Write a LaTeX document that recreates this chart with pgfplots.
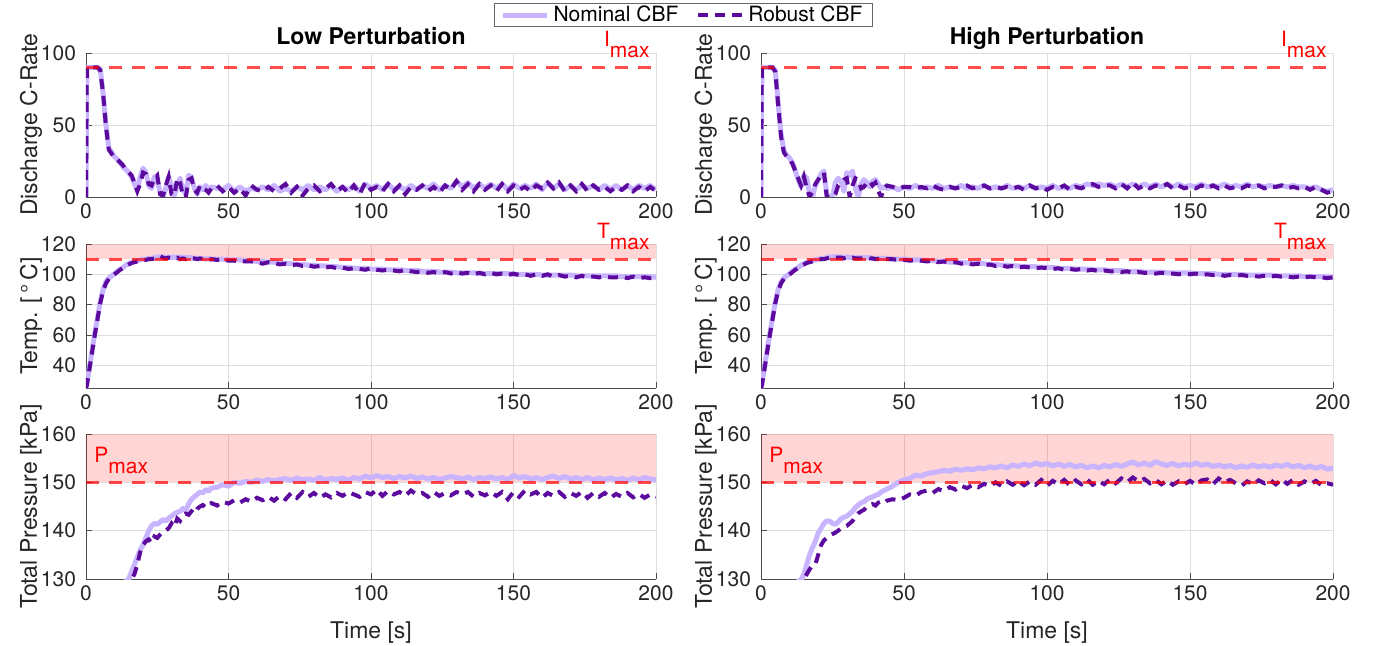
\documentclass[border=0pt]{standalone}
\usepackage{pgfplots}
\usepackage{pgfplotstable}
\pgfplotsset{compat=1.18}
\usepackage{fontspec}
\setmainfont{TeX Gyre Heros}

\definecolor{nomc}{RGB}{200,180,255}
\definecolor{robc}{RGB}{92,10,158}
\definecolor{tickc}{RGB}{38,38,38}

\newcommand{\tickfont}{\fontsize{10.5}{12}\selectfont}
\newcommand{\labfont}{\fontsize{11.5}{13}\selectfont}
\newcommand{\maxlab}[1]{\textcolor{red}{#1\raisebox{-5.5pt}{max}}}

\pgfplotstableread{
t cN cR TN TR PN PR
0 0 0 25 25 101 101
0.3 90 90 27 27 102 102
1 90 90 36 35 104 104
2 90 90 48 47 107 107
3 90 90 60 59 110 110
4 90 90 71 70 113 112.5
5 89 88 82 81 116 115
6 72 72 90 89 119 118
7 50 49 95 94 121.5 120.5
8 34 33 97.5 97 123.5 122.5
9 31 30 99 98.5 125 124
10 28 27 100.5 100 126.5 125.5
11 26 26 102 101.5 127.5 126.5
12 24 24 103.5 103 128.5 127.5
13 21 22 104.5 104 129 128.5
14 19 19 106 105.5 129.5 129
15 17 17 107 106.5 130 129.5
16 14 15 108 107.5 131.5 130
17 9 10 108.5 108 133 131
18 5 4 109 108.5 134.5 133
19 14 9 109.5 109 136 135.5
20 20 17 110 109.5 137 137
21 17 16 110 109.5 138.5 137.8
22 8 9 110.5 110 140 138.2
23 6 8 110.5 110 141 137.5
24 14 13 111 110.5 141.5 138.8
25 12 15 111.5 111.5 141.3 138.5
26 3 2 111.5 112 141.8 139.2
27 0 1 111.5 111 142.3 139.8
28 6 8 111 110.5 142 140
29 14 14 111.5 111 142.6 140.5
30 8 2 111 110.5 143 141.5
31 1 1 111.5 110.5 143.5 140.8
32 8 13 111 111 143.8 142.5
33 13 10 111.5 110 144 142
34 5 1 111 110.5 144.6 142.8
35 2 0 111 110 144.2 143.5
36 15 12 111 111 145.5 143.3
37 14 13 111 110.5 146.5 144
38 6 5 110.5 110.5 147 143.5
39 2 3 110.5 110 147.5 144.5
40 7 8 110.5 110.5 148 145
41 5 6 110.5 110 147.8 145.3
42 8 5 110 110 148.5 144.8
43 5 3 110.5 109.5 148.2 145.5
44 7 6 110 110 148.8 145.7
46 6 8 110 109.5 149 145.2
48 5 4 110 110 149.5 146
50 8 7 109.5 109 149.2 145.6
52 4 3 109.5 109 150 146.3
54 7 6 109.5 108.5 149.8 145.8
56 4 1 109 108.5 150.2 146.5
58 6 8 109 108.5 150 146
60 5 5 108.5 108 150.5 146.8
62 7 4 108.5 107 150.2 146.3
64 5 7 108 108 150.6 147
66 8 4 108 107.5 150.3 146.2
68 4 6 107.5 106.5 150.6 147.2
70 6 9 107 107 150.8 146.5
72 4 3 107 106 150.4 147.8
74 7 7 106.5 106.5 150.9 146.8
76 5 1 106.5 105.5 150.5 148
78 8 6 106 106 150.7 147
80 5 8 106 105 150.4 147.8
82 7 4 105.5 105.5 151 146.8
84 5 6 105.5 104.5 150.5 147.5
86 8 9 105 105 150.8 146.9
88 4 4 105 104 150.6 147.8
90 7 7 104.5 104.5 150.9 147.2
92 5 3 104.5 103.5 150.4 148
94 8 8 104 104 151 147.5
96 4 2 104 103.5 150.7 147
98 9 10 104 103 151.3 148
100 6 5 103.5 104 150.9 147.5
102 8 7 103.5 103 151.4 148.5
104 5 4 103.5 102.5 151 147.2
106 9 9 103 103 151.2 148.2
108 5 4 103 102.5 150.8 147.5
110 7 8 103 102 151.2 148
112 5 2 102.5 103 150.9 147.2
114 8 7 102.5 102 151.3 148.3
116 5 5 102.5 101.5 150.8 147.5
118 8 8 102 102 151.1 147.8
120 6 4 102 101 150.7 147
122 9 7 102 101.5 151 148
124 5 3 101.5 100.5 150.6 147.2
126 8 8 101.5 101.5 150.9 147.8
128 6 5 101.5 100.5 151.2 147.3
130 11 11 101 101.5 151 148
132 7 5 101 100.5 150.7 147.5
134 10 9 101 101 151.1 148
136 6 4 101 100 150.6 147
138 9 9 100.5 101 151 147.8
140 6 5 100.5 100 150.8 147.3
142 9 8 100.5 101 151.1 148
144 6 4 100.5 100 150.7 147.2
146 9 9 100.5 100.5 151 148
148 5 4 100.5 99.5 150.6 146.5
150 9 8 100 100.5 151.4 148
152 6 5 100 99.5 150.9 147
154 8 7 100 100 151.2 148.3
156 6 4 100 99 150.7 147.5
158 9 8 100 100 151 148
160 5 6 99.5 99 150.6 146.8
162 10 10 99.5 100 151 147.8
164 6 6 99.5 98.5 151.3 147.2
166 9 10 99.5 99.5 150.8 148
168 5 4 99.5 98.5 151.2 147
170 8 8 99.5 99 150.7 147.8
172 5 4 99 98 151 147.2
174 8 9 99 99 150.6 148
176 6 4 99 98 151 146.8
178 8 8 99 98.5 150.5 147.8
180 5 5 99 98 150.9 147
182 8 7 99 98.5 150.6 147.8
184 5 4 99 98 150.9 146.8
186 8 7 99 98 150.5 147.6
188 5 5 98.5 98.5 150.8 147
190 8 8 98.5 97.5 150.4 147.8
192 5 4 98.5 98.5 150.9 146.9
194 8 7 98.5 97.5 150.5 147.6
196 6 4 98.5 98 151 146.8
198 8 7 98.5 97.5 150.7 147.5
200 5 4 98 98 150.5 147
}\lowdata

\pgfplotstableread{
t cN cR TN TR PN PR
0 0 0 25 25 101 101
0.3 90 90 27 27 102 102
1 90 90 36 35 104.5 104
2 90 90 48 47 108 107.5
3 90 90 60 59 111 110.5
4 90 90 71 70 114 113.5
5 88 87 82 81 117.5 116.5
6 65 64 90 89 120.5 119.5
7 44 42 95 94 123 122
8 32 31 97.5 97 125 124
9 29 28 99 98.5 126.5 125.5
10 27 26 100.5 100 127.5 126.5
11 24 23 102 101.5 128.5 127.5
12 18 18 103.5 103 129 128
13 12 13 104.5 104 129.5 128.5
14 7 8 106 105.5 129.8 129.3
15 15 14 107 106.5 131 130
16 13 6 108 107.5 133 131
17 2 0 108.5 108 135 132
18 0 4 109 108.5 136.5 132.8
19 8 9 109.5 109 137.8 133
20 12 12 110 109.5 139.5 135
21 16 15 110.5 110 140.5 137
22 18 17 110.5 110 141.5 138
23 2 0 111 110.5 142 138.5
24 0 0 111.5 111 142 139
25 0 0 111.5 111.5 141.5 139.3
26 10 2 111.5 111 141.3 139.6
27 13 8 111.5 111 141.8 140
28 11 10 111.5 111 142.5 140.5
29 4 12 111 110.5 142.8 140.8
30 17 13 111.5 111 143 141
31 15 0 111 110.5 143.5 141.5
32 18 8 111 111 144 142
33 6 13 111 110.5 144.8 143
34 0 12 111 110.5 145.3 143.6
35 9 6 111 110.5 145.8 144
36 12 7 111 110.5 146 144.3
37 10 10 111 111 146.5 145
38 7 11 111 110.5 146.8 145.3
39 11 8 110.5 110.5 147 145.5
40 12 10 110.5 110 147.3 145.2
41 9 4 110.5 110 147.5 145.8
42 6 0 110.5 110 148 146
43 7 6 110.5 110 148.3 145.7
44 6 8 110.5 110 148.6 146.2
46 7 7 110 110 149.2 146.5
48 5 6 110 109.5 150 146.3
50 7 7 110 109.5 150.5 146.8
52 6 7 109.5 109 150.8 147.5
54 8 6 109.5 109.5 151.5 147.2
56 6 7 109.5 109 151.3 148
58 7 6 109 108.5 151.8 148.3
60 6 8 109 109 152 147.8
62 8 6 108.5 108 152.2 148.6
64 6 5 108.5 108.5 152.5 148.2
66 7 7 108 107.5 152.3 149
68 6 6 108 108 152.7 148.5
70 8 7 108 107 152.5 149.3
72 6 8 107.5 107.5 152.8 148.8
74 7 6 107.5 106.5 152.6 149.5
76 6 7 107 107 153 149
78 8 8 107 106 152.8 149.7
80 6 6 106.5 106.5 153.2 149.2
82 7 7 106.5 105.5 153 150
84 6 6 106 106 153.4 149.3
86 8 7 106 105 153 150.2
88 6 6 105.5 105.5 153.6 149.5
90 7 7 105.5 104.5 153.3 150.3
92 6 5 105 105 153.8 149.4
94 8 8 105 104.5 153.4 150.2
96 6 6 105 104 154 149.5
98 7 7 104.5 104.5 153.6 150.5
100 6 5 104.5 104 153.9 149.3
102 8 7 104.5 103.5 153.4 150.3
104 6 6 104 104 153.8 149.6
106 7 8 104 103 153.3 150.5
108 6 5 104 103.5 153.7 149.4
110 8 7 103.5 103 153.2 150.4
112 7 6 103.5 103.5 153.5 149.6
114 9 8 103.5 102.5 153 150.6
116 8 9 103 103 153.4 149.5
118 9 7 103 102 153 150.3
120 8 8 103 102.5 153.5 149.6
122 9 8 102.5 102 153.2 150.6
124 7 6 102.5 102 153.7 149.8
126 9 9 102.5 101.5 153.3 150.8
128 7 6 102 102 153.8 150
130 9 10 102 101 154.2 151
132 7 6 102 101.5 153.6 150.2
134 9 8 101.5 101 154 150.7
136 7 6 101.5 101 153.5 149.8
138 9 8 101.5 100.5 154.3 150.5
140 7 7 101.5 101 153.8 149.6
142 9 9 101 100.5 153.5 150.4
144 7 6 101 100.5 153.9 149.5
146 9 8 101 100 153.4 150.2
148 7 6 101 100.5 153.8 149.6
150 8 7 101 100 153.5 150.3
152 7 6 100.5 100.5 154 149.5
154 9 8 100.5 99.5 153.5 150.4
156 7 6 100.5 100 153.8 150.6
158 8 8 100.5 99.5 153.3 149.6
160 7 6 100 100 153.6 150.8
162 9 8 100 99 153.2 150
164 7 6 100 99.5 153.5 150.5
166 8 7 100 99 153 149.8
168 7 6 100 99.5 153.4 149.3
170 9 8 99.5 99 153.1 150.2
172 7 7 99.5 99 153.6 149.6
174 8 8 99.5 98.5 153.2 150.4
176 7 6 99.5 99 153.5 149.8
178 8 7 99.5 98.5 153.1 150.5
180 7 7 99 99 153.6 149.6
182 8 8 99 98.5 153.3 150.6
184 7 6 99 98.5 153.7 149.7
186 8 7 99 98 153.2 150.5
188 7 6 99 98.5 153.5 149.5
190 7 7 98.5 98 153 150.2
192 6 5 98.5 98.5 153.4 149.6
194 7 7 98.5 98 152.9 150.3
196 5 5 98.5 98 153.3 149.4
198 4 3 98.5 97.5 152.7 149.8
200 5 4 98 98 153 149.5
}\highdata

\pgfplotsset{
  base/.style={
    scale only axis, width=285pt,
    xmin=0, xmax=200, xtick={0,50,100,150,200},
    axis x line*=bottom, axis y line*=left,
    axis line style={black!70, line width=0.4pt},
    tick align=inside, major tick length=3pt,
    tick style={black!70, line width=0.4pt},
    grid=major, major grid style={black!13, line width=0.35pt},
    ticklabel style={font=\tickfont, text=tickc},
    /pgf/number format/assume math mode=true,
    yticklabel style={xshift=-1.5pt},
    every axis y label/.style={at={(axis description cs:-0.0965,0.5)}, rotate=90, anchor=center, font=\labfont, text=tickc},
    every axis x label/.style={at={(axis description cs:0.5,0)}, anchor=base, yshift=-29.5pt, font=\labfont, text=tickc},
    every axis title/.style={at={(axis description cs:0.5,1)}, anchor=base, yshift=4pt, font=\labfont\bfseries},
  },
  nom/.style={color=nomc, line width=2.5pt, line join=round},
  rob/.style={color=robc, line width=2pt, dash pattern=on 5pt off 3.5pt},
  lim/.style={color=red, opacity=0.7, line width=1.5pt, dash pattern=on 6.5pt off 5pt, forget plot},
  shade/.style={draw=none, fill=red, fill opacity=0.165, forget plot},
  crate/.style={base, height=72pt, ymin=0, ymax=100, ytick={0,50,100}, ylabel={Discharge C-Rate}},
  temp/.style={base, height=72pt, ymin=25, ymax=120, ytick={40,60,80,100,120}, ylabel={Temp. [\,°\,C]}},
  pres/.style={base, height=72.5pt, ymin=130, ymax=160, ytick={130,140,150,160}, ylabel={Total Pressure [kPa]}, xlabel={Time [s]}},
}

\begin{document}
\begin{tikzpicture}
\useasboundingbox (0,0) rectangle (687pt,-323pt);

% ---------- Low perturbation ----------
\begin{axis}[crate, at={(43pt,-26.5pt)}, anchor=north west, title={Low Perturbation},
  after end axis/.code={\node[anchor=base east, inner sep=0pt, font=\tickfont] at (axis cs:197.9,104.2) {\maxlab{I}};}]
\addplot[nom] table[x=t,y=cN] {\lowdata};
\addplot[rob] table[x=t,y=cR] {\lowdata};
\addplot[lim] coordinates {(0,90) (200,90)};
\end{axis}

\begin{axis}[temp, at={(43pt,-122pt)}, anchor=north west,
  after end axis/.code={\node[anchor=base east, inner sep=0pt, font=\tickfont] at (axis cs:197.9,123.3) {\maxlab{T}};}]
\addplot[shade] coordinates {(0,110) (200,110) (200,120) (0,120)} -- cycle;
\addplot[nom] table[x=t,y=TN] {\lowdata};
\addplot[rob] table[x=t,y=TR] {\lowdata};
\addplot[lim] coordinates {(0,110) (200,110)};
\end{axis}

\begin{axis}[pres, at={(43pt,-217pt)}, anchor=north west,
  after end axis/.code={\node[anchor=base west, inner sep=0pt, font=\tickfont] at (axis cs:2.8,154.2) {\maxlab{P}};}]
\addplot[shade] coordinates {(0,150) (200,150) (200,160) (0,160)} -- cycle;
\addplot[nom] table[x=t,y=PN] {\lowdata};
\addplot[rob] table[x=t,y=PR] {\lowdata};
\addplot[lim] coordinates {(0,150) (200,150)};
\end{axis}

% ---------- High perturbation ----------
\begin{axis}[crate, width=286pt, at={(380.5pt,-26.5pt)}, anchor=north west, title={High Perturbation},
  legend style={at={(-0.1355,1.345)}, anchor=north, draw=black!60, line width=0.4pt, fill=white,
    font=\tickfont, text=black, inner xsep=3pt, inner ysep=0.25pt,
    nodes={inner ysep=0.75pt},
    /tikz/every even column/.append style={column sep=7pt}},
  legend columns=2,
  legend image code/.code={\draw[#1] (0pt,0pt) -- (22pt,0pt);},
  after end axis/.code={\node[anchor=base east, inner sep=0pt, font=\tickfont] at (axis cs:197.9,104.2) {\maxlab{I}};}]
\addplot[nom] table[x=t,y=cN] {\highdata};
\addlegendentry{Nominal CBF}
\addplot[rob] table[x=t,y=cR] {\highdata};
\addlegendentry{Robust CBF}
\addplot[lim] coordinates {(0,90) (200,90)};
\end{axis}

\begin{axis}[temp, width=286pt, at={(380.5pt,-122pt)}, anchor=north west,
  after end axis/.code={\node[anchor=base east, inner sep=0pt, font=\tickfont] at (axis cs:197.9,123.3) {\maxlab{T}};}]
\addplot[shade] coordinates {(0,110) (200,110) (200,120) (0,120)} -- cycle;
\addplot[nom] table[x=t,y=TN] {\highdata};
\addplot[rob] table[x=t,y=TR] {\highdata};
\addplot[lim] coordinates {(0,110) (200,110)};
\end{axis}

\begin{axis}[pres, width=286pt, at={(380.5pt,-217pt)}, anchor=north west,
  after end axis/.code={\node[anchor=base west, inner sep=0pt, font=\tickfont] at (axis cs:2.8,154.2) {\maxlab{P}};}]
\addplot[shade] coordinates {(0,150) (200,150) (200,160) (0,160)} -- cycle;
\addplot[nom] table[x=t,y=PN] {\highdata};
\addplot[rob] table[x=t,y=PR] {\highdata};
\addplot[lim] coordinates {(0,150) (200,150)};
\end{axis}
\end{tikzpicture}
\end{document}
